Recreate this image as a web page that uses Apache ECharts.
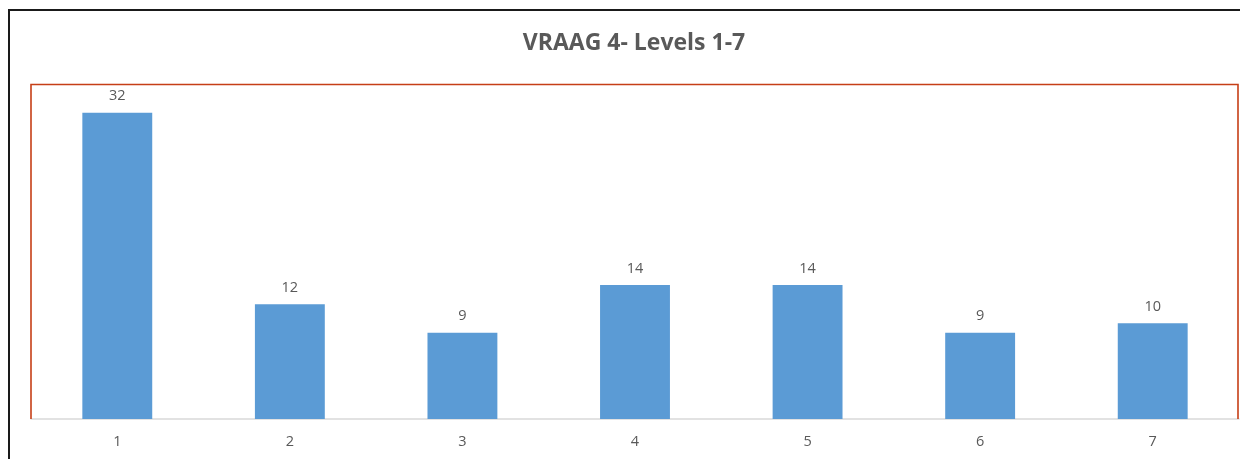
<!DOCTYPE html>
<html><head><meta charset="utf-8">
<script src="https://cdn.jsdelivr.net/npm/echarts@6/dist/echarts.min.js"></script>
<style>html,body{margin:0;padding:0;background:#fff}#c{width:1240px;height:459px}</style>
</head><body><div id="c"></div>
<script>
const titleText = 'VRAAG 4- Levels 1-7';
const categories = ['1','2','3','4','5','6','7'];
const values = [32, 12, 9, 14, 14, 9, 10];

const chart = echarts.init(document.getElementById('c'));
chart.setOption({
  animation: false,
  backgroundColor: '#fff',
  title: {
    text: titleText, left: 629, top: 27, textAlign: 'center',
    textStyle: { fontFamily: 'Open Sans', fontWeight: 'bold', fontSize: 23, color: '#595959' }
  },
  grid: { left: 31, right: 1, top: 84, bottom: 40, containLabel: false },
  xAxis: {
    type: 'category', data: categories,
    axisLine: { show: true, lineStyle: { color: '#d9d9d9', width: 1.5 } },
    axisTick: { show: false },
    axisLabel: { color: '#595959', fontFamily: 'Open Sans', fontSize: 14.5, margin: 15 }
  },
  yAxis: { type: 'value', min: 0, max: 35, show: false, splitLine: { show: false } },
  series: [{
    type: 'bar', data: values, barWidth: '40.5%',
    itemStyle: { color: '#5b9bd5' },
    label: { show: true, position: 'top', distance: 9, color: '#595959', fontFamily: 'Open Sans', fontSize: 14.5 }
  }],
  graphic: [
    { type: 'rect', shape: { x: 9, y: 10, width: 1400, height: 600 }, style: { fill: 'none', stroke: '#1a1a1a', lineWidth: 2 }, z: 100 },
    { type: 'polyline', shape: { points: [[31, 419], [31, 84.5], [1238, 84.5], [1238, 419]] }, style: { fill: 'none', stroke: '#c63f17', lineWidth: 1.6 }, z: 100 }
  ]
});
</script></body></html>
